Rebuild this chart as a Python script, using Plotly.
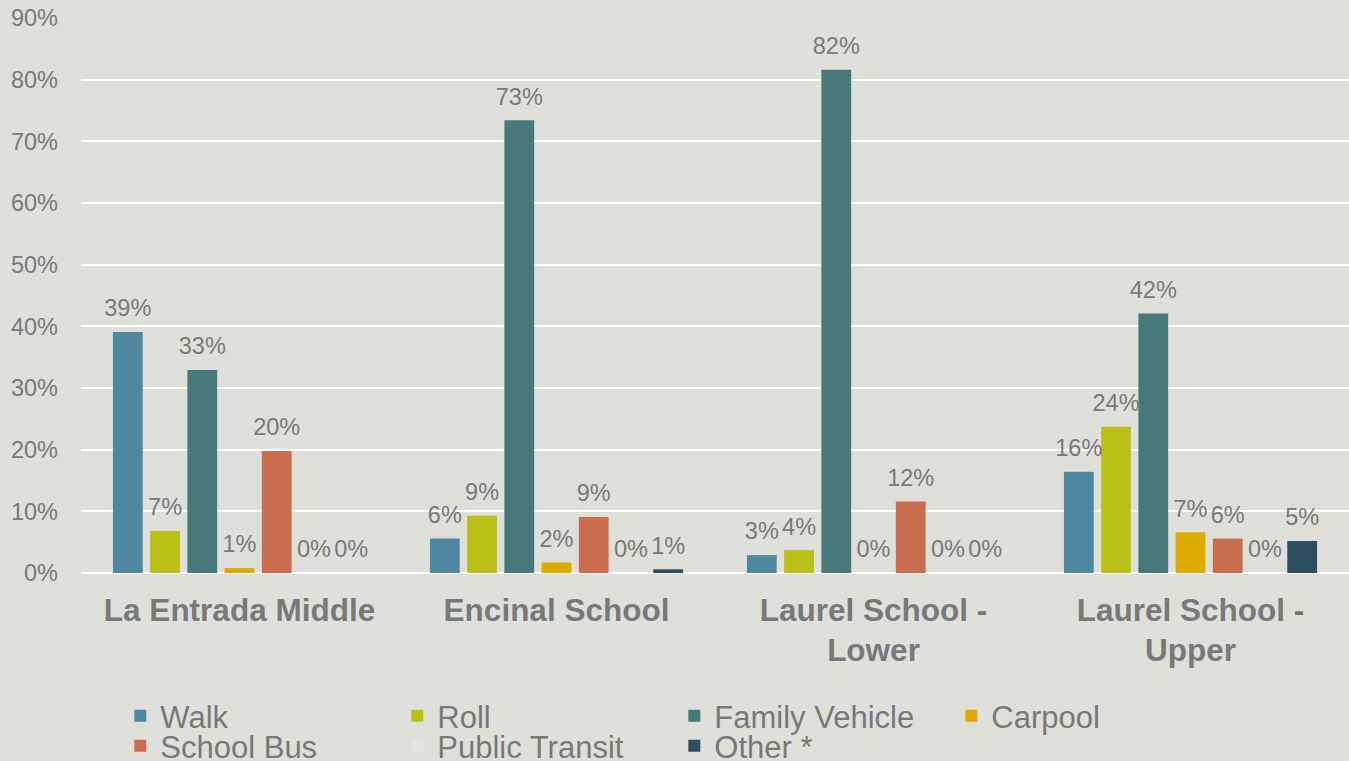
import plotly.graph_objects as go

schools = ["La Entrada Middle", "Encinal School", "Laurel School -<br>Lower", "Laurel School -<br>Upper"]
modes = ["Walk", "Roll", "Family Vehicle", "Carpool", "School Bus", "Public Transit", "Other *"]

walk = [39.1, 5.6, 2.9, 16.4]
roll = [6.8, 9.3, 3.7, 23.7]
family_vehicle = [32.9, 73.4, 81.6, 42.1]
carpool = [0.8, 1.7, 0.0, 6.6]
school_bus = [19.8, 9.1, 11.6, 5.6]
public_transit = [0.0, 0.0, 0.0, 0.0]
other = [0.0, 0.6, 0.0, 5.2]

series = [walk, roll, family_vehicle, carpool, school_bus, public_transit, other]
colors = ["#4e87a0", "#b9bf14", "#48797a", "#dcaa00", "#c86e4e", "#e4e4e0", "#2d4e5f"]
legend_rows = ["legend", "legend", "legend", "legend", "legend2", "legend2", "legend2"]

y_ticks = [0, 10, 20, 30, 40, 50, 60, 70, 80, 90]
y_tick_labels = [f"{t}%" for t in y_ticks]

BG = "#dfdfda"
TXT = "#77787b"
FONT = "Liberation Sans, Arial, sans-serif"

fig = go.Figure()
for name, vals, col, lg in zip(modes, series, colors, legend_rows):
    fig.add_trace(go.Bar(
        x=schools, y=vals, name=name, marker=dict(color=col, line=dict(width=0)),
        legend=lg, legendgroup=name,
    ))
for name, vals in zip(modes, series):
    fig.add_trace(go.Scatter(
        x=schools, y=vals, mode="markers+text", showlegend=False, legendgroup=name,
        marker=dict(size=14, opacity=0), text=[f"{v:.0f}%" for v in vals],
        textposition="top center", textfont=dict(size=23.5, color=TXT, family=FONT),
        hoverinfo="skip", cliponaxis=False,
    ))

legend_common = dict(
    orientation="h", xanchor="left", yanchor="middle", bgcolor="rgba(0,0,0,0)",
    font=dict(size=31, color=TXT, family=FONT), entrywidth=232, entrywidthmode="pixels",
    itemwidth=30, traceorder="normal",
)

fig.update_layout(
    width=1349, height=761,
    margin=dict(l=81, r=0, t=18, b=188, autoexpand=False),
    paper_bgcolor=BG, plot_bgcolor=BG,
    barmode="group", bargap=0.178, bargroupgap=0.2,
    scattermode="group", scattergap=0.178,
    font=dict(family=FONT, color=TXT),
    showlegend=True,
    legend=dict(x=0.031, y=-0.2577, **legend_common),
    legend2=dict(x=0.031, y=-0.3117, **legend_common),
    xaxis=dict(
        showgrid=False, showline=False, zeroline=False, ticks="",
        tickfont=dict(size=31.5, color=TXT, family=FONT, weight="bold"),
        ticklabelstandoff=15, automargin=False,
    ),
    yaxis=dict(
        range=[0, 90], tickvals=y_ticks, ticktext=y_tick_labels,
        showgrid=True, gridcolor="#ffffff", gridwidth=2,
        zeroline=True, zerolinecolor="#ffffff", zerolinewidth=2,
        showline=False, ticks="", ticklabelstandoff=22, automargin=False,
        tickfont=dict(size=23.5, color=TXT, family=FONT),
    ),
)

fig.write_html(
    "out.html",
    config={"displayModeBar": False},
    post_script="document.body.style.margin='0';document.body.style.padding='0';document.body.style.background='" + BG + "';",
)
